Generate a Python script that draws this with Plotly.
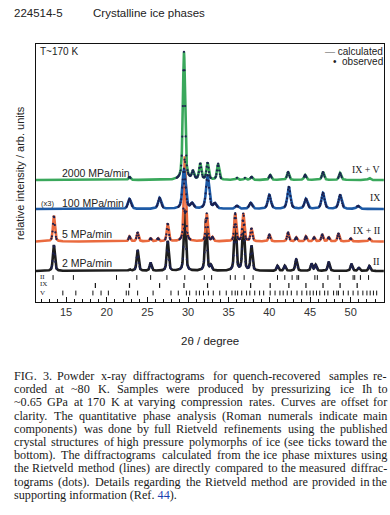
import numpy as np
import plotly.graph_objects as go

W, H = 390, 515

# ---------------- data ----------------
two_theta_min, two_theta_max = 11.3, 54.1

samples = ["2000 MPa/min", "100 MPa/min", "5 MPa/min", "2 MPa/min"]
phases_main = ["IX + V", "IX", "IX + II", "II"]

green_pos = [22.8, 29.5, 30.6, 31.5, 32.4, 33.7, 36.0, 37.0, 37.8, 40.1, 42.3, 44.4, 46.6, 48.7, 52.3]
green_h = [3, 128, 8, 16, 17, 16, 2, 2, 3, 5, 8, 5, 8, 7, 2]

blue_pos = [22.8, 26.5, 29.5, 30.5, 32.4, 33.3, 36.0, 37.7, 40.0, 42.4, 44.5, 46.6, 48.7, 50.9]
blue_h = [10, 11, 40, 5, 34, 5, 3, 6, 14, 22, 10, 16, 14, 3]

orange_pos = [13.5, 22.8, 23.8, 25.4, 26.3, 27.5, 29.6, 32.3, 33.0, 35.8, 36.8, 37.8, 40.0, 42.3,
              43.3, 44.5, 45.5, 46.5, 47.3, 48.5, 50.0, 52.3]
orange_h = [26, 5, 9, 3, 3, 18, 85, 28, 4, 28, 28, 13, 7, 9, 4, 5, 4, 7, 4, 8, 3, 3]

black_pos = [13.5, 22.8, 23.8, 25.4, 27.5, 29.6, 32.2, 32.8, 35.8, 36.8, 37.8, 41.0, 41.9, 43.3,
             45.2, 45.7, 47.3, 50.1, 51.0, 52.3]
black_h = [26, 1.5, 21, 8, 30, 62, 52, 5, 56, 50, 25, 5, 5, 12, 7, 6, 9, 7, 3, 5]

ticks_II = [13.4, 15.9, 21.2, 23.7, 25.4, 27.4, 29.6, 32.0, 32.9, 35.2, 35.8, 36.9, 38.0, 41.0,
            41.9, 42.8, 43.4, 43.6, 45.6, 45.9, 47.2, 48.6, 50.3, 50.5, 51.2, 52.2]
ticks_IX = [18.6, 22.8, 26.5, 29.5, 32.4, 37.7, 40.1, 42.4, 44.5, 46.6, 48.7, 50.8]
ticks_V = [14.6, 16.2, 18.3, 19.3, 20.2, 22.4, 22.7, 23.8, 25.7, 27.9, 28.8, 29.8, 30.2, 31.0,
           31.4, 31.9, 32.5, 33.1, 33.9, 34.7, 35.4, 35.8, 36.1, 36.6, 37.2, 37.6, 38.2, 38.8,
           39.3, 40.1, 40.7, 41.3, 41.7, 42.2, 42.7, 43.4, 44.0, 44.6, 45.0, 45.4, 45.8, 46.2,
           46.8, 47.2, 47.9, 48.3, 48.5, 49.1, 49.7, 50.3, 50.9, 51.5, 52.0, 52.4, 52.8, 53.2]
tick_rows = ["II", "IX", "V"]

x_ticks = [15, 20, 25, 30, 35, 40, 45, 50]

caption = [
    "FIG. 3. Powder x-ray diffractograms for quench-recovered samples re-",
    "corded at ~80 K. Samples were produced by pressurizing ice Ih to",
    "~0.65 GPa at 170 K at varying compression rates. Curves are offset for",
    "clarity. The quantitative phase analysis (Roman numerals indicate main",
    "components) was done by full Rietveld refinements using the published",
    "crystal structures of high pressure polymorphs of ice (see ticks toward the",
    "bottom). The diffractograms calculated from the ice phase mixtures using",
    "the Rietveld method (lines) are directly compared to the measured diffrac-",
    "tograms (dots). Details regarding the Rietveld method are provided in the",
]
caption_last = "supporting information (Ref. <span style='color:#1a3fb0'>44</span>)."

# ---------------- layout helpers ----------------
PL, PR, PT, PB = 36, 384, 44, 302  # plot box in pixels
Y_TOP = PB - PT


def px(xp):
    return xp / W


def py(yp):
    return (H - yp) / H


offsets = {"green": PB - 180, "blue": PB - 209, "orange": PB - 241.5, "black": PB - 271}
widths = {"green": 0.16, "blue": 0.22, "orange": 0.14, "black": 0.14}
colors = {"green": "#3aa85c", "blue": "#1d5aa6", "orange": "#ea6a3e", "black": "#1e1e1e"}
row_y = {"II": PB - 277.5, "IX": PB - 285.5, "V": PB - 293}

xg = np.arange(two_theta_min, two_theta_max, 0.02)
xd = np.arange(two_theta_min, two_theta_max, 0.07)


def profile(xx, pos, h, w):
    y = np.zeros_like(xx)
    for c, a in zip(pos, h):
        d = (xx - c) / w
        y += a * (0.55 / (1 + d * d) + 0.45 * np.exp(-np.log(2) * d * d))
    return y


fig = go.Figure()

series = [("black", black_pos, black_h), ("orange", orange_pos, orange_h),
          ("blue", blue_pos, blue_h), ("green", green_pos, green_h)]

for name, pos, h in series:
    yc = profile(xg, pos, h, widths[name]) + offsets[name]
    fig.add_trace(go.Scatter(x=xg, y=yc, mode="lines",
                             line=dict(color=colors[name], width=2.6),
                             hoverinfo="skip", showlegend=False))
for name, pos, h in series:
    yo = profile(xd, pos, h, widths[name])
    m = yo > 2.0
    fig.add_trace(go.Scatter(x=xd[m], y=yo[m] + offsets[name], mode="markers",
                             marker=dict(color="#1c2150", size=2.2),
                             hoverinfo="skip", showlegend=False))

# phase reflection ticks
for row, lst, lw in [("II", ticks_II, 1), ("IX", ticks_IX, 1.2), ("V", ticks_V, 1)]:
    xs, ys = [], []
    for t in lst:
        xs += [t, t, None]
        ys += [row_y[row] - 2.4, row_y[row] + 2.4, None]
    fig.add_trace(go.Scatter(x=xs, y=ys, mode="lines", line=dict(color="#111", width=lw),
                             hoverinfo="skip", showlegend=False))

SANS = "Liberation Sans, Arial, sans-serif"
SERIF = "Liberation Serif, Times New Roman, serif"

ann = []


def text(t, x, y, size, xanchor="left", family=SANS, color="#222", angle=0):
    ann.append(dict(text=t, x=px(x), y=py(y), xref="paper", yref="paper", showarrow=False,
                    xanchor=xanchor, yanchor="middle", textangle=angle, borderpad=0,
                    font=dict(family=family, size=size, color=color)))


# header
text("224514-5", 13, 13, 11.5)
text("Crystalline ice phases", 92, 13, 11.5)

# inside plot
text("T~170 K", 39, 51, 10)
text("<span style='color:#888'>—</span> calculated", 384, 51, 10, xanchor="right")
text("•  observed", 384, 61, 10, xanchor="right")

label_y = [173, 203, 234, 263]
for s, yy in zip(samples, label_y):
    text(s, 61, yy, 10.5)
text("(x3)", 40, 203, 7.5)

right_y = [169, 197, 230, 261]
for s, yy in zip(phases_main, right_y):
    text(s, 381, yy, 9.8, xanchor="right", family=SERIF)

for r, yy in zip(tick_rows, [276.5, 284.5, 292.5]):
    text(r, 39, yy, 7, family=SERIF)

text("relative intensity / arb. units", 20, 173, 11, xanchor="center", angle=-90)
text("2θ / degree", 210, 341, 11.5, xanchor="center")

# ---- justified caption (Times metrics, 1/1000 em) ----
TW = {' ': 250, '!': 333, '(': 333, ')': 333, ',': 250, '-': 333, '.': 250, '/': 278, ':': 278,
      ';': 278, '~': 541, 'A': 722, 'B': 667, 'C': 667, 'D': 722, 'E': 611, 'F': 556, 'G': 722,
      'H': 722, 'I': 333, 'J': 389, 'K': 722, 'L': 611, 'M': 889, 'N': 722, 'O': 722, 'P': 556,
      'Q': 722, 'R': 667, 'S': 556, 'T': 611, 'U': 722, 'V': 722, 'W': 944, 'X': 722, 'Y': 722,
      'Z': 611, 'a': 444, 'b': 500, 'c': 444, 'd': 500, 'e': 444, 'f': 333, 'g': 500, 'h': 500,
      'i': 278, 'j': 278, 'k': 500, 'l': 278, 'm': 778, 'n': 500, 'o': 500, 'p': 500, 'q': 500,
      'r': 333, 's': 389, 't': 278, 'u': 500, 'v': 500, 'w': 722, 'x': 500, 'y': 500, 'z': 444}
CAP_SIZE = 12.2
CAP_L, CAP_R = 13, 388
CAP_Y0, CAP_DY = 376, 13.2
CAP_COLOR = "#1a1a1a"


def tw(s):
    return sum(TW.get(c, 500) for c in s) * CAP_SIZE / 1000.0 * 1.04


for i, line in enumerate(caption):
    yy = CAP_Y0 + i * CAP_DY
    words = line.split(" ")
    total = sum(tw(w) for w in words)
    gap = (CAP_R - CAP_L - total) / (len(words) - 1)
    xcur = CAP_L
    for j, w in enumerate(words):
        if j == len(words) - 1:
            text(w, CAP_R, yy, CAP_SIZE, xanchor="right", family=SERIF, color=CAP_COLOR)
        else:
            text(w, xcur, yy, CAP_SIZE, family=SERIF, color=CAP_COLOR)
        xcur += tw(w) + gap
text(caption_last, CAP_L, CAP_Y0 + len(caption) * CAP_DY, CAP_SIZE, family=SERIF, color=CAP_COLOR)

fig.update_layout(
    width=W, height=H, margin=dict(l=0, r=0, t=0, b=0),
    paper_bgcolor="white", plot_bgcolor="white",
    annotations=ann,
    xaxis=dict(domain=[px(PL), px(PR)], range=[two_theta_min, two_theta_max],
               showline=True, linecolor="#111", linewidth=1, mirror=True,
               showgrid=False, zeroline=False, tickmode="array", tickvals=x_ticks,
               ticks="inside", ticklen=5, tickcolor="#111",
               minor=dict(ticks="inside", dtick=1, tick0=0, ticklen=3, tickcolor="#111", showgrid=False),
               tickfont=dict(family=SANS, size=11, color="#333")),
    yaxis=dict(domain=[py(PB), py(PT)], range=[0, Y_TOP],
               showline=True, linecolor="#111", linewidth=1, mirror=True,
               showgrid=False, zeroline=False, showticklabels=False, ticks=""),
)

fig.write_html("out.html", config={"displayModeBar": False},
               post_script="document.body.style.margin='0';document.body.style.overflow='hidden';")
